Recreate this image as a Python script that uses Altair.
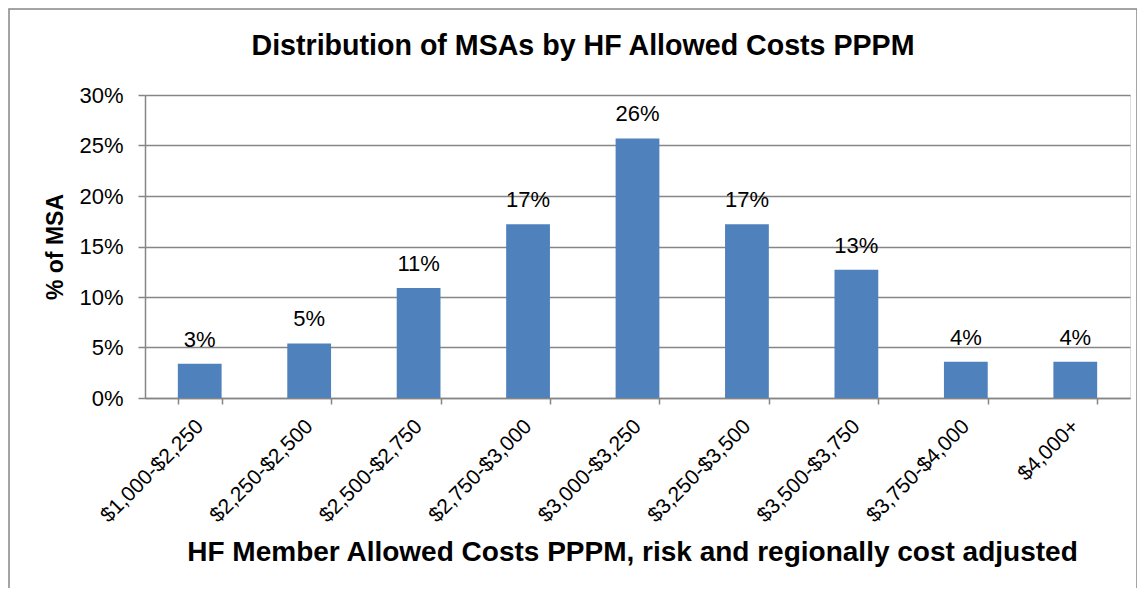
import altair as alt
import pandas as pd

# ---- data ----
categories = ["$1,000-$2,250", "$2,250-$2,500", "$2,500-$2,750", "$2,750-$3,000",
              "$3,000-$3,250", "$3,250-$3,500", "$3,500-$3,750", "$3,750-$4,000", "$4,000+"]
shares = [0.034, 0.054, 0.109, 0.172, 0.257, 0.172, 0.127, 0.036, 0.036]
y_ticks = [0, 0.05, 0.10, 0.15, 0.20, 0.25, 0.30]

chart_title = "Distribution of MSAs by HF Allowed Costs PPPM"
x_title = "HF Member Allowed Costs PPPM, risk and regionally cost adjusted"
y_title = "% of MSA"

df = pd.DataFrame({"range": categories, "share": shares})

W, H = 985, 303
GRID = "#868686"
BAR = "#4F81BD"
FONT = "Liberation Sans"

x_enc = alt.X(
    "range:N", sort=categories,
    scale=alt.Scale(paddingInner=0.6, paddingOuter=0.3),
    axis=alt.Axis(
        title=x_title, labelAngle=-45, labelAlign="right", labelBaseline="middle",
        labelPadding=19, labelFontSize=21, labelFont=FONT, labelColor="black",
        tickBand="extent", tickSize=6, tickColor=GRID, tickWidth=1.5,
        domainColor=GRID, domainWidth=1.5, grid=False,
        titleFont=FONT, titleFontSize=28, titleFontWeight="bold", titleColor="black",
        titleX=487, titleY=162, titleAlign="center", titleBaseline="alphabetic",
    ),
)
y_enc = alt.Y(
    "share:Q",
    scale=alt.Scale(domain=[0, 0.3]),
    axis=alt.Axis(
        title=y_title, values=y_ticks, format=".0%",
        labelFontSize=22, labelFont=FONT, labelColor="black", labelPadding=15,
        tickSize=7, tickColor=GRID, tickWidth=1.5,
        domainColor=GRID, domainWidth=1.5,
        grid=True, gridColor=GRID, gridWidth=1.5,
        titleFont=FONT, titleFontSize=23, titleFontWeight="bold", titleColor="black",
        titleAngle=-90, titleX=-90, titleY=151.5, titleAlign="center", titleBaseline="middle",
    ),
)

bars = alt.Chart(df).mark_bar(color=BAR).encode(x=x_enc, y=y_enc)
labels = alt.Chart(df).mark_text(
    dy=-17, baseline="alphabetic", fontSize=22, font=FONT, color="black"
).encode(x=alt.X("range:N", sort=categories), y="share:Q",
         text=alt.Text("share:Q", format=".0%"))

frame = alt.Chart(pd.DataFrame({"frame": [0]})).mark_rect(
    fillOpacity=0, stroke=GRID, strokeWidth=1.5
).encode(x=alt.value(-136), x2=alt.value(992), y=alt.value(-86), y2=alt.value(530))

chart = alt.layer(frame, bars, labels).properties(
    width=W, height=H,
    title=alt.TitleParams(chart_title, font=FONT, fontSize=28.6, fontWeight="bold",
                          color="black", anchor="middle", dx=-54.5,
                          baseline="alphabetic", offset=-75),
    autosize=alt.AutoSizeParams(type="none"),
    padding={"left": 137, "top": 87, "right": 7, "bottom": 190},
).configure_view(stroke=None).configure(background="white")

chart.save("out.html", embed_options={"renderer": "svg", "actions": False})
